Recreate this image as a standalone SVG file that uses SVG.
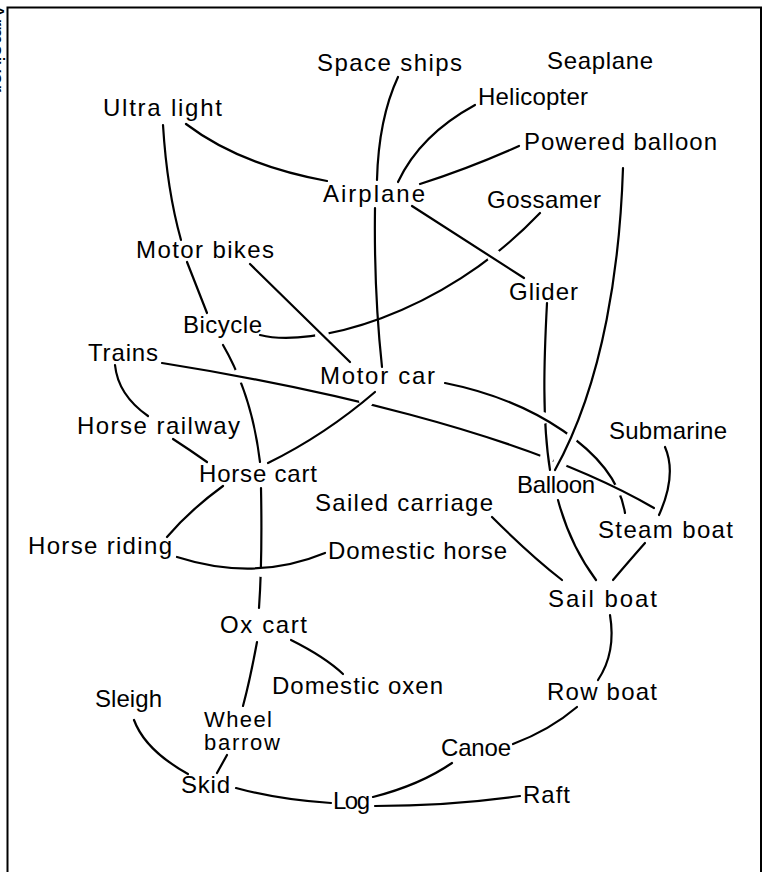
<svg xmlns="http://www.w3.org/2000/svg" width="764" height="872" viewBox="0 0 764 872">
<style>
  .lbl { font-family: "Liberation Sans", Arial, sans-serif; font-size: 24px; fill: #000; }
  .sm { font-size: 22px; }
  .side { font-family: "Liberation Sans", Arial, sans-serif; font-size: 22px; fill: #000; }
  .edge { fill: none; stroke: #000; stroke-width: 2.2; stroke-linecap: round; }
  .frame { fill: none; stroke: #000; stroke-width: 2; }
</style>
<defs>
  <mask id="m-goss" maskUnits="userSpaceOnUse" x="0" y="0" width="764" height="872">
    <rect x="0" y="0" width="764" height="872" fill="#fff"/>
    <circle cx="322" cy="335" r="7" fill="#000"/>
    <circle cx="494" cy="256" r="7" fill="#000"/>
  </mask>
  <mask id="m-bic" maskUnits="userSpaceOnUse" x="0" y="0" width="764" height="872">
    <rect x="0" y="0" width="764" height="872" fill="#fff"/>
    <circle cx="239" cy="376" r="7" fill="#000"/>
  </mask>
  <mask id="m-trains" maskUnits="userSpaceOnUse" x="0" y="0" width="764" height="872">
    <rect x="0" y="0" width="764" height="872" fill="#fff"/>
    <circle cx="366" cy="401" r="7" fill="#000"/>
    <circle cx="547" cy="457" r="7" fill="#000"/>
    <circle cx="560" cy="463" r="7" fill="#000"/>
  </mask>
  <mask id="m-hcart" maskUnits="userSpaceOnUse" x="0" y="0" width="764" height="872">
    <rect x="0" y="0" width="764" height="872" fill="#fff"/>
    <circle cx="261" cy="572" r="5" fill="#000"/>
  </mask>
  <mask id="m-glider" maskUnits="userSpaceOnUse" x="0" y="0" width="764" height="872">
    <rect x="0" y="0" width="764" height="872" fill="#fff"/>
    <circle cx="543" cy="418" r="6" fill="#000"/>
  </mask>
  <mask id="m-motor" maskUnits="userSpaceOnUse" x="0" y="0" width="764" height="872">
    <rect x="0" y="0" width="764" height="872" fill="#fff"/>
    <circle cx="572" cy="437" r="6" fill="#000"/>
    <circle cx="618" cy="490" r="6" fill="#000"/>
  </mask>
</defs>

<rect x="0" y="0" width="764" height="872" fill="#fff"/>
<path class="frame" d="M7.5,872 V7.5 H761 V872"/>
<text class="side" transform="translate(-11,4) rotate(90)">Armaiyer</text>

<g id="connectors">
  <path class="edge" d="M398,77 C385,105 378,140 377,180"/>
  <path class="edge" d="M375,208 C374,280 378,330 382,367"/>
  <path class="edge" d="M475,105 Q420,135 398,182"/>
  <path class="edge" d="M519,146 Q470,168 420,184"/>
  <path class="edge" d="M186,124 Q240,165 327,181"/>
  <path class="edge" d="M163,125 Q167,190 181,240"/>
  <path class="edge" d="M187,262 L207,313"/>
  <path class="edge" mask="url(#m-bic)" d="M223,345 Q252,395 260,462"/>
  <path class="edge" d="M250,264 L350,362"/>
  <path class="edge" mask="url(#m-goss)" d="M260,335 C310,348 440,318 540,213"/>
  <path class="edge" d="M412,206 L524,278"/>
  <path class="edge" mask="url(#m-glider)" d="M547,303 C544,360 542,420 550,470"/>
  <path class="edge" d="M623,168 C620,260 605,380 555,470"/>
  <path class="edge" mask="url(#m-motor)" d="M445,383 C530,400 615,450 625,513"/>
  <path class="edge" mask="url(#m-trains)" d="M162,363 C300,385 520,430 654,508"/>
  <path class="edge" mask="url(#m-hcart)" d="M261,488 C262,540 261,580 259,608"/>
  <path class="edge" d="M177,557 Q255,582 325,553"/>
  <path class="edge" d="M223,486 Q190,510 167,537"/>
  <path class="edge" d="M173,439 Q190,450 207,462"/>
  <path class="edge" d="M115,365 Q118,395 148,416"/>
  <path class="edge" d="M375,392 Q325,435 268,463"/>
  <path class="edge" d="M558,500 Q570,545 596,580"/>
  <path class="edge" d="M492,517 Q530,555 562,580"/>
  <path class="edge" d="M645,543 Q630,560 613,580"/>
  <path class="edge" d="M665,447 C675,470 668,495 659,515"/>
  <path class="edge" d="M610,615 C615,645 608,665 598,680"/>
  <path class="edge" d="M577,707 Q550,730 513,744"/>
  <path class="edge" d="M452,763 Q420,785 373,797"/>
  <path class="edge" d="M375,806 Q450,806 520,796"/>
  <path class="edge" d="M236,788 Q280,800 331,803"/>
  <path class="edge" d="M134,720 Q145,750 188,774"/>
  <path class="edge" d="M227,755 L217,773"/>
  <path class="edge" d="M257,642 Q250,680 243,706"/>
  <path class="edge" d="M291,640 Q325,657 343,674"/>
</g>

<g id="n-spaceships"><text class="lbl" x="317" y="71" textLength="145" lengthAdjust="spacing">Space ships</text></g>
<g id="n-seaplane"><text class="lbl" x="547" y="69" textLength="106" lengthAdjust="spacing">Seaplane</text></g>
<g id="n-ultralight"><text class="lbl" x="103" y="116" textLength="119" lengthAdjust="spacing">Ultra light</text></g>
<g id="n-helicopter"><text class="lbl" x="478" y="105" textLength="110" lengthAdjust="spacing">Helicopter</text></g>
<g id="n-poweredballoon"><text class="lbl" x="524" y="150" textLength="193" lengthAdjust="spacing">Powered balloon</text></g>
<g id="n-airplane"><text class="lbl" x="323" y="202" textLength="102" lengthAdjust="spacing">Airplane</text></g>
<g id="n-gossamer"><text class="lbl" x="487" y="208" textLength="114" lengthAdjust="spacing">Gossamer</text></g>
<g id="n-motorbikes"><text class="lbl" x="136" y="258" textLength="138" lengthAdjust="spacing">Motor bikes</text></g>
<g id="n-glider"><text class="lbl" x="509" y="300" textLength="69" lengthAdjust="spacing">Glider</text></g>
<g id="n-bicycle"><text class="lbl" x="183" y="333" textLength="79" lengthAdjust="spacing">Bicycle</text></g>
<g id="n-trains"><text class="lbl" x="88" y="361" textLength="70" lengthAdjust="spacing">Trains</text></g>
<g id="n-motorcar"><text class="lbl" x="320" y="384" textLength="115" lengthAdjust="spacing">Motor car</text></g>
<g id="n-submarine"><text class="lbl" x="609" y="439" textLength="118" lengthAdjust="spacing">Submarine</text></g>
<g id="n-horserailway"><text class="lbl" x="77" y="434" textLength="163" lengthAdjust="spacing">Horse railway</text></g>
<g id="n-horsecart"><text class="lbl" x="199" y="482" textLength="118" lengthAdjust="spacing">Horse cart</text></g>
<g id="n-balloon"><text class="lbl" x="517" y="493" textLength="78" lengthAdjust="spacing">Balloon</text></g>
<g id="n-sailedcarriage"><text class="lbl" x="315" y="511" textLength="178" lengthAdjust="spacing">Sailed carriage</text></g>
<g id="n-steamboat"><text class="lbl" x="598" y="538" textLength="135" lengthAdjust="spacing">Steam boat</text></g>
<g id="n-horseriding"><text class="lbl" x="28" y="554" textLength="144" lengthAdjust="spacing">Horse riding</text></g>
<g id="n-domestichorse"><text class="lbl" x="328" y="559" textLength="179" lengthAdjust="spacing">Domestic horse</text></g>
<g id="n-sailboat"><text class="lbl" x="548" y="607" textLength="109" lengthAdjust="spacing">Sail boat</text></g>
<g id="n-oxcart"><text class="lbl" x="220" y="633" textLength="87" lengthAdjust="spacing">Ox cart</text></g>
<g id="n-domesticoxen"><text class="lbl" x="272" y="694" textLength="171" lengthAdjust="spacing">Domestic oxen</text></g>
<g id="n-sleigh"><text class="lbl" x="95" y="707" textLength="67" lengthAdjust="spacing">Sleigh</text></g>
<g id="n-wheelbarrow">
  <text class="lbl sm" x="204" y="727" textLength="68" lengthAdjust="spacing">Wheel</text>
  <text class="lbl sm" x="204" y="750" textLength="76" lengthAdjust="spacing">barrow</text>
</g>
<g id="n-rowboat"><text class="lbl" x="547" y="700" textLength="110" lengthAdjust="spacing">Row boat</text></g>
<g id="n-canoe"><text class="lbl" x="441" y="756" textLength="70" lengthAdjust="spacing">Canoe</text></g>
<g id="n-skid"><text class="lbl" x="181" y="793" textLength="49" lengthAdjust="spacing">Skid</text></g>
<g id="n-log"><text class="lbl" x="333" y="809" textLength="37" lengthAdjust="spacing">Log</text></g>
<g id="n-raft"><text class="lbl" x="523" y="803" textLength="47" lengthAdjust="spacing">Raft</text></g>
</svg>
